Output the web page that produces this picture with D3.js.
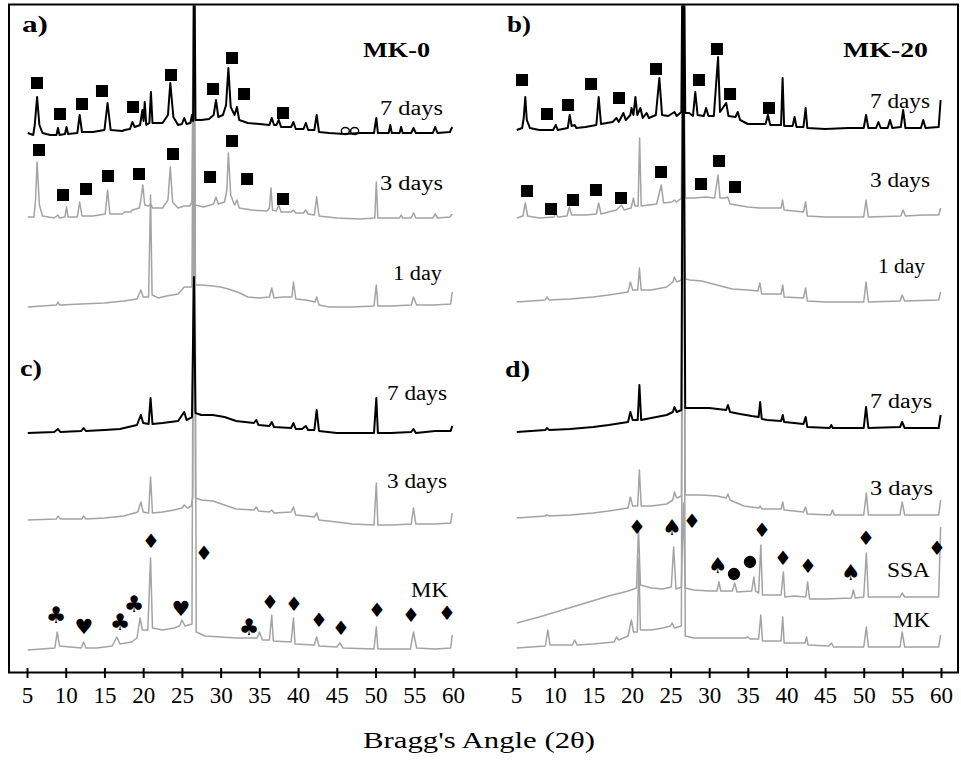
<!DOCTYPE html>
<html>
<head>
<meta charset="utf-8">
<script src="https://cdn.jsdelivr.net/npm/d3@7"></script>
<style>
  body { margin: 0; background: #fff; }
  svg { font-family: "Liberation Serif", "Times New Roman", serif; }
  text { font-family: "Liberation Serif", "Times New Roman", serif; fill: #000; }
</style>
</head>
<body>
<svg id="chart" width="961" height="764"></svg>
<script>
var tickValues = [5, 10, 15, 20, 25, 30, 35, 40, 45, 50, 55, 60];

// each pattern: [2theta, intensity above its own stacked baseline]
var mk0_7d = [[5.1,2],[5.8,0],[6.0,10],[6.3,38],[6.6,10],[7.0,2],[8.0,0],[8.8,0],[9.0,7],[9.2,0],[9.9,1],[10.1,8],[10.3,1],
  [11.5,2],[11.8,20],[12.1,3],[13.5,3],[15.0,5],[15.4,32],[15.8,5],[17.3,4],[17.6,5],[18.3,6],[18.6,13],[18.9,8],[19.6,10],
  [19.9,25],[20.05,14],[20.2,33],[20.4,10],[20.8,12],[21.0,43],[21.2,12],[22.5,12],[23.2,20],[23.5,52],[23.9,18],[24.5,10],
  [25.0,11],[25.3,17],[25.6,11],[26.1,12],[26.3,20],[26.45,14],[26.6,200],[26.75,15],[27.5,15],[28.5,16],[29.1,20],[29.4,35],
  [29.7,18],[30.3,20],[30.7,30],[31.0,67],[31.3,28],[31.8,20],[32.1,28],[32.4,15],[33.5,12],[35.0,11],[36.3,10],[36.6,17],
  [36.9,10],[37.2,10],[37.5,15],[37.8,8],[39.1,8],[39.4,13],[39.7,6],[40.7,6],[41.0,12],[41.3,5],[42.1,5],[42.4,20],[42.7,3],
  [44,2],[46,1],[48,2],[49.8,2],[50.1,17],[50.3,2],[51.7,2],[51.9,10],[52.1,2],[53.1,2],[53.3,8],[53.5,2],[54.6,2],[54.9,7],
  [55.2,2],[57.4,2],[57.7,8],[58.0,2],[59.6,3],[59.9,8]];
var mk0_3d = [[5.1,3],[5.9,3],[6.1,20],[6.3,58],[6.6,15],[7.0,4],[8.5,2],[9.0,5],[9.2,2],[9.9,3],[10.1,13],[10.3,3],[11.5,3],
  [11.8,18],[12.1,4],[13.5,4],[15.1,6],[15.4,30],[15.7,6],[17.3,6],[17.6,8],[18.4,8],[18.6,10],[19.5,12],[19.7,20],[19.95,35],
  [20.2,15],[20.7,14],[21.0,16],[21.2,12],[22.5,12],[23.2,20],[23.5,53],[23.8,18],[24.5,12],[25.3,14],[26.0,14],[26.3,18],
  [26.5,260],[26.7,15],[27.8,13],[29.1,16],[29.4,23],[29.7,16],[30.5,18],[30.8,30],[31.0,67],[31.3,25],[31.8,15],[32.1,20],
  [32.4,12],[34,10],[36.0,9],[36.3,12],[36.5,32],[36.7,10],[37.2,9],[37.5,15],[37.8,8],[39.1,8],[39.4,10],[39.7,7],[40.7,7],
  [41.0,10],[41.3,6],[42.1,5],[42.4,23],[42.7,4],[45,2],[48,1],[49.9,2],[50.1,38],[50.3,2],[52,2],[53.1,2],[53.3,5],[53.5,2],
  [54.6,2],[54.9,7],[55.2,2],[57.4,2],[57.7,6],[58.0,2],[59.6,3],[59.9,6]];
var mk0_1d = [[5.1,0],[8.8,2],[9.0,5],[9.2,2],[12.0,3],[15.0,4],[17.5,6],[19.2,8],[19.7,17],[20.0,10],[20.7,10],[20.95,112],
  [21.15,12],[22.0,9],[23.0,11],[24.5,13],[25.3,20],[26.3,20],[26.5,320],[26.75,22],[27.5,22],[29,21],[30.0,20],[31.0,18],
  [32.5,14],[33.5,10],[35,9],[36.3,10],[36.6,19],[36.9,9],[38,10],[39.2,10],[39.4,25],[39.7,8],[41,7],[42.2,5],[42.4,10],
  [42.7,2],[44,0],[47,0],[49.8,1],[50.1,22],[50.3,1],[52,1],[54.6,2],[54.9,10],[55.3,2],[57.5,2],[59.7,3],[59.9,15]];
var mkpc_7d = [[5.1,0],[8.5,1],[9.0,4],[9.3,1],[12.0,2],[12.3,5],[12.6,2],[15,3],[17,4],[19.2,8],[19.7,18],[20.0,10],[20.7,9],
  [20.95,35],[21.2,9],[22.5,10],[24.5,12],[25.3,21],[25.6,13],[26.3,16],[26.55,156],[26.75,20],[27.5,18],[29,18],[30.5,16],
  [32,12],[34.3,10],[34.6,13],[34.9,8],[36.3,7],[36.6,11],[36.9,6],[39.1,5],[39.4,10],[39.7,4],[40.5,4],[41.0,7],[41.3,3],
  [42.1,3],[42.4,23],[42.7,2],[45,0],[48,0],[49.8,0],[50.1,35],[50.3,0],[52,0],[54.6,1],[54.9,4],[55.2,0],[57.7,2],[59.7,2],
  [59.9,7]];
var mkpc_3d = [[5.1,0],[8.8,1],[9.0,4],[9.3,1],[12.1,1],[12.3,4],[12.6,1],[15,2],[17.5,4],[19.3,8],[19.7,18],[20.0,8],[20.7,7],
  [20.95,43],[21.2,7],[22.5,8],[24,10],[25.0,12],[25.3,15],[25.7,12],[26.2,14],[26.4,23],[26.55,520],[26.75,22],[27.5,20],
  [29,19],[30.5,15],[32,11],[34.3,10],[34.6,13],[34.9,9],[36.3,8],[36.6,10],[36.9,7],[39.1,8],[39.4,13],[39.7,5],[41,4],
  [42.1,3],[42.4,7],[42.7,0],[45,-2],[47,-4],[49.8,-5],[50.1,37],[50.3,-5],[52,-5],[54.6,-4],[54.9,12],[55.2,-4],[57.7,-4],
  [59.7,-3],[59.9,7]];
var mk_left = [[5.1,0],[8.6,2],[8.9,18],[9.2,4],[12.0,2],[12.3,8],[12.6,2],[14,2],[16.0,4],[16.6,13],[17.0,6],[18.5,8],[19.2,12],
  [19.6,32],[19.9,20],[20.6,20],[20.95,92],[21.2,22],[22.5,20],[24.0,22],[24.7,24],[25.0,30],[25.4,24],[26.3,26],[26.6,700],
  [26.85,18],[28,14],[30,13],[32,12],[34.7,12],[35.0,18],[35.4,10],[36.3,10],[36.6,35],[36.8,9],[39.1,8],[39.4,32],[39.6,6],
  [42.1,5],[42.4,13],[42.7,4],[45.0,3],[45.4,7],[45.8,2],[49.8,1],[50.1,23],[50.3,1],[54.5,1],[54.9,18],[55.3,2],[57.7,1],
  [59.7,2],[59.9,15]];
var mk20_7d = [[5.1,0],[5.8,2],[6.0,12],[6.2,33],[6.4,10],[6.8,2],[8,0],[9.8,0],[10.15,5],[10.4,0],[11.7,2],[11.95,15],[12.2,4],
  [12.6,5],[12.8,2],[14,3],[15.4,5],[15.7,33],[16.0,6],[17.5,8],[18.0,12],[18.3,8],[18.9,17],[19.2,10],[19.8,15],[19.95,22],
  [20.2,15],[20.45,33],[20.7,15],[21.1,22],[21.4,12],[21.9,17],[22.2,12],[23.1,15],[23.55,52],[23.9,15],[24.7,14],[25.1,16],
  [25.5,18],[25.8,14],[26.4,18],[26.65,300],[26.9,17],[27.4,17],[27.9,14],[28.2,38],[28.5,15],[29.3,14],[29.6,22],[29.9,14],
  [30.6,14],[31.15,73],[31.4,18],[32.2,27],[32.5,14],[33.4,13],[33.7,18],[34.0,10],[35,6],[37.3,6],[37.6,15],[37.9,5],[39.3,5],
  [39.5,52],[39.7,4],[40.8,4],[41.05,13],[41.3,3],[42.2,3],[42.48,22],[42.7,2],[45,1],[48,2],[50.0,2],[50.3,15],[50.6,2],
  [51.6,2],[51.9,8],[52.2,2],[53.1,2],[53.4,10],[53.7,2],[54.8,3],[55.1,20],[55.4,2],[57.4,2],[57.7,10],[58.0,2],[59.7,3],
  [59.95,30]];
var mk20_3d = [[5.1,0],[5.9,2],[6.2,15],[6.5,2],[8,0],[9.9,1],[10.15,5],[10.4,1],[11.6,2],[11.9,11],[12.2,3],[14,3],[15.4,4],
  [15.7,15],[16.0,4],[18,8],[18.65,13],[19.0,8],[19.9,10],[20.2,20],[20.4,12],[20.8,12],[21.0,80],[21.2,12],[23.2,14],[23.8,33],
  [24.1,15],[25.2,16],[25.5,18],[25.8,16],[26.4,20],[26.65,260],[26.9,20],[28,20],[29.5,21],[30.7,20],[31.15,43],[31.4,20],
  [32.1,20],[32.4,21],[32.7,14],[35,11],[36.5,10],[39.3,10],[39.5,18],[39.7,8],[42.2,6],[42.48,16],[42.7,2],[45,1],[48,1],
  [50,1],[50.3,18],[50.6,1],[54.8,2],[55.1,8],[55.4,2],[57.7,3],[59.7,3],[59.95,10]];
var mk20_1d = [[5.1,0],[8.8,2],[9.0,5],[9.3,2],[12,3],[15,5],[17,7],[19.5,10],[19.8,20],[20.1,12],[20.75,12],[20.97,34],
  [21.2,12],[22.5,12],[24.5,15],[25.3,20],[25.5,25],[25.8,20],[26.4,22],[26.65,320],[26.9,23],[27.5,22],[29,21],[31,17],
  [33,13],[35,12],[36.3,11],[36.56,19],[36.8,8],[38.5,8],[39.3,8],[39.52,17],[39.7,5],[42.2,4],[42.48,14],[42.7,1],[45,0],
  [48,0],[50,0],[50.3,20],[50.6,0],[54.7,1],[54.97,7],[55.3,1],[59.7,2],[59.95,10]];
var mkssa_7d = [[5.1,0],[8.8,2],[9.0,4],[9.3,2],[12,3],[15,5],[17,7],[19.5,10],[19.8,20],[20.1,12],[20.75,12],[20.97,47],
  [21.2,12],[22.5,14],[24.5,17],[25.3,20],[25.5,25],[25.8,20],[26.4,22],[26.65,450],[26.9,24],[28,24],[30,24],[32.2,22],
  [32.43,27],[32.7,20],[34,18],[35.5,16],[36.4,15],[36.6,30],[36.8,13],[37.5,12],[39.3,11],[39.52,17],[39.7,10],[41,9],
  [42.2,8],[42.48,15],[42.7,5],[45.6,4],[45.8,7],[46.0,4],[50,4],[50.3,25],[50.6,4],[54.7,5],[54.97,10],[55.3,4],[59.7,4],
  [59.95,17]];
var mkssa_3d = [[5.1,0],[8.8,2],[9.0,3],[9.3,2],[12,3],[15,5],[17,7],[19.5,10],[19.8,21],[20.1,12],[20.75,12],[20.97,48],
  [21.2,12],[22.5,12],[24.5,14],[25.3,18],[25.5,26],[25.8,20],[26.4,22],[26.65,520],[26.9,23],[29,23],[31,22],[32.2,20],
  [32.43,24],[32.7,18],[34.5,12],[36.4,10],[36.6,12],[36.8,9],[39.3,9],[39.52,16],[39.7,8],[42.2,6],[42.48,11],[42.7,4],
  [45.7,3],[45.96,8],[46.2,3],[50,3],[50.34,25],[50.6,3],[54.7,3],[54.97,16],[55.3,3],[59.7,3],[59.95,18]];
var ssa = [[5.1,0],[8,6],[11,13],[14,20],[17,27],[19.5,32],[20.6,35],[20.85,95],[21.1,38],[22.5,35],[24.0,34],[25.1,36],
  [25.4,76],[25.7,34],[26.4,36],[26.65,120],[26.9,35],[28,33],[30,32],[31.0,32],[31.27,41],[31.5,32],[33.0,32],[33.3,40],
  [33.6,31],[35.5,32],[35.78,46],[36.0,32],[36.4,30],[36.68,78],[36.9,28],[39.3,28],[39.6,51],[39.8,26],[41,27],[42.5,26],
  [42.74,41],[43,24],[45,24],[48.4,25],[48.66,33],[48.9,25],[50.0,26],[50.34,70],[50.6,26],[54.7,26],[54.97,30],[55.3,26],
  [59.7,26],[59.95,96]];
var mk_right = [[5.1,0],[8.8,2],[9.12,18],[9.4,3],[12.3,3],[12.6,8],[12.9,3],[15,4],[17.7,6],[18.0,11],[18.3,8],[19.5,12],
  [19.94,28],[20.2,16],[20.7,16],[20.9,90],[21.1,18],[22.5,18],[24,20],[25.0,22],[25.2,25],[25.5,20],[26.4,22],[26.65,700],
  [26.9,12],[28,10],[31,10],[34.7,10],[35.0,11],[35.3,9],[36.4,9],[36.68,33],[36.9,7],[39.3,7],[39.52,31],[39.7,5],[42.4,5],
  [42.6,11],[42.8,3],[45.5,2],[45.83,5],[46.1,1],[50,1],[50.34,21],[50.6,1],[54.7,1],[54.97,16],[55.3,1],[59.7,1],[59.95,13]];

// stacking offsets (a.u.) of each pattern
var offsets = { mk0_7d: 538, mk0_3d: 453, mk0_1d: 366, mkpc_7d: 240, mkpc_3d: 153, mk_left: 23,
  mk20_7d: 543, mk20_3d: 455, mk20_1d: 371, mkssa_7d: 241, mkssa_3d: 155, ssa: 50, mk_right: 25 };

// phase markers: [2theta, level]
var sqA7 = [[6.29,590],[9.26,559],[12.10,569],[14.68,582],[18.69,566],[23.59,598],[29.02,584],[31.47,615],[33.02,579],[38.05,560]];
var sqA3 = [[6.55,523],[9.65,478],[12.62,484],[15.46,497],[19.46,499],[23.85,519],[28.63,496],[31.47,532],[33.41,494],[38.05,474]];
var ringA7 = [[46.1,542],[47.3,542]];
var clubMK = [[8.74,58],[17.01,51],[18.82,69],[33.66,46]];
var heartMK = [[12.36,46],[24.88,64]];
var diamMK = [[21.01,132],[27.85,120],[36.37,71],[39.47,69],[42.70,53],[45.54,45],[50.19,63],[54.58,58],[59.23,60]];
var sqB7 = [[5.78,593],[9.01,559],[11.73,568],[14.71,589],[18.33,575],[23.12,604],[28.68,593],[31.01,624],[32.70,579],[37.74,565]];
var sqB3 = [[6.42,482],[9.53,464],[12.38,473],[15.35,483],[18.59,475],[23.77,501],[28.94,489],[31.27,512],[33.34,486]];
var diamSSA = [[20.66,146],[27.78,152],[36.84,143],[39.55,115],[42.79,107],[50.30,135],[59.48,125]];
var spadeSSA = [[25.19,146],[31.14,108],[48.35,101]];
var dotSSA = [[33.21,99],[35.28,111]];

var GREY = '#a3a3a3';

var series = [
  { side: 'L', name: 'mk0_3d', data: mk0_3d, color: GREY },
  { side: 'L', name: 'mk0_1d', data: mk0_1d, color: GREY },
  { side: 'L', name: 'mkpc_3d', data: mkpc_3d, color: GREY },
  { side: 'L', name: 'mk_left', data: mk_left, color: GREY },
  { side: 'R', name: 'mk20_3d', data: mk20_3d, color: GREY },
  { side: 'R', name: 'mk20_1d', data: mk20_1d, color: GREY },
  { side: 'R', name: 'mkssa_3d', data: mkssa_3d, color: GREY },
  { side: 'R', name: 'ssa', data: ssa, color: GREY },
  { side: 'R', name: 'mk_right', data: mk_right, color: GREY },
  { side: 'L', name: 'mk0_7d', data: mk0_7d, color: '#000' },
  { side: 'L', name: 'mkpc_7d', data: mkpc_7d, color: '#000' },
  { side: 'R', name: 'mk20_7d', data: mk20_7d, color: '#000' },
  { side: 'R', name: 'mkssa_7d', data: mkssa_7d, color: '#000' }
];

var markers = [
  { side: 'L', shape: 'square', pts: sqA7 }, { side: 'L', shape: 'square', pts: sqA3 },
  { side: 'L', shape: 'ring', pts: ringA7 },
  { side: 'L', shape: 'club', pts: clubMK }, { side: 'L', shape: 'heart', pts: heartMK },
  { side: 'L', shape: 'diamond', pts: diamMK },
  { side: 'R', shape: 'square', pts: sqB7 }, { side: 'R', shape: 'square', pts: sqB3 },
  { side: 'R', shape: 'diamond', pts: diamSSA }, { side: 'R', shape: 'spade', pts: spadeSSA },
  { side: 'R', shape: 'dot', pts: dotSSA }
];

var labels = [
  { t: 'a)', x: 22, y: 32, w: 26, size: 24, bold: true },
  { t: 'MK-0', x: 363, y: 57, w: 67, size: 22, bold: true },
  { t: '7 days', x: 380, y: 115, w: 63, size: 20 },
  { t: '3 days', x: 380, y: 190, w: 63, size: 20 },
  { t: '1 day', x: 393, y: 280, w: 49, size: 20 },
  { t: 'c)', x: 20, y: 376, w: 22, size: 24, bold: true },
  { t: '7 days', x: 387, y: 400, w: 60, size: 20 },
  { t: '3 days', x: 387, y: 488, w: 60, size: 20 },
  { t: 'MK', x: 411, y: 597, w: 37, size: 20 },
  { t: 'b)', x: 507, y: 32, w: 24, size: 24, bold: true },
  { t: 'MK-20', x: 843, y: 57, w: 85, size: 22, bold: true },
  { t: '7 days', x: 870, y: 108, w: 60, size: 20 },
  { t: '3 days', x: 870, y: 187, w: 60, size: 20 },
  { t: '1 day', x: 878, y: 273, w: 47, size: 20 },
  { t: 'd)', x: 505, y: 377, w: 25, size: 24, bold: true },
  { t: '7 days', x: 870, y: 408, w: 62, size: 20 },
  { t: '3 days', x: 870, y: 495, w: 63, size: 20 },
  { t: 'SSA', x: 887, y: 577, w: 43, size: 20 },
  { t: 'MK', x: 893, y: 627, w: 37, size: 20 }
];

var svg = d3.select('#chart');
var xL = d3.scaleLinear().domain([5, 60]).range([27, 453]);
var xR = d3.scaleLinear().domain([5, 60]).range([516, 941]);
var y = d3.scaleLinear().domain([0, 668]).range([673, 5]);
function xs(side) { return side === 'L' ? xL : xR; }

svg.append('clipPath').attr('id', 'box')
  .append('rect').attr('x', 10).attr('y', 5.5).attr('width', 947).attr('height', 666);

var plot = svg.append('g').attr('clip-path', 'url(#box)');

series.forEach(function (s) {
  var x = xs(s.side), off = offsets[s.name];
  var line = d3.line().x(function (d) { return x(d[0]); }).y(function (d) { return y(off + d[1]); });
  plot.append('path').datum(s.data)
    .attr('d', line)
    .attr('fill', 'none')
    .attr('stroke', s.color)
    .attr('stroke-width', s.color === GREY ? 1.5 : 2)
    .attr('stroke-linejoin', 'round');
});

var glyphs = { club: '\u2663', heart: '\u2665', diamond: '\u2666', spade: '\u2660' };
var glyphSize = { club: 23, heart: 21, diamond: 20, spade: 22 };

markers.forEach(function (m) {
  var x = xs(m.side);
  var g = plot.append('g');
  if (m.shape === 'square' || m.shape === 'dot') {
    var sym = d3.symbol()
      .type(m.shape === 'square' ? d3.symbolSquare : d3.symbolCircle)
      .size(m.shape === 'square' ? 144 : 120);
    g.selectAll('path').data(m.pts).enter().append('path')
      .attr('d', sym)
      .attr('transform', function (d) { return 'translate(' + x(d[0]) + ',' + y(d[1]) + ')'; })
      .attr('fill', '#000');
  } else if (m.shape === 'ring') {
    g.selectAll('ellipse').data(m.pts).enter().append('ellipse')
      .attr('cx', function (d) { return x(d[0]); })
      .attr('cy', function (d) { return y(d[1]); })
      .attr('rx', 4).attr('ry', 3.5)
      .attr('fill', 'none').attr('stroke', '#000').attr('stroke-width', 1.4);
  } else {
    g.selectAll('text').data(m.pts).enter().append('text')
      .attr('x', function (d) { return x(d[0]); })
      .attr('y', function (d) { return y(d[1]); })
      .attr('dy', '0.35em')
      .attr('text-anchor', 'middle')
      .style('font-family', '"DejaVu Sans", sans-serif')
      .style('font-size', glyphSize[m.shape] + 'px')
      .text(glyphs[m.shape]);
  }
});

svg.append('g').selectAll('text').data(labels).enter().append('text')
  .attr('x', function (d) { return d.x; })
  .attr('y', function (d) { return d.y; })
  .attr('textLength', function (d) { return d.w; })
  .attr('lengthAdjust', 'spacingAndGlyphs')
  .style('font-size', function (d) { return d.size + 'px'; })
  .style('font-weight', function (d) { return d.bold ? 'bold' : 'normal'; })
  .text(function (d) { return d.t; });

// frame
svg.append('rect')
  .attr('x', 9).attr('y', 4.5).attr('width', 949).attr('height', 668)
  .attr('fill', 'none').attr('stroke', '#000').attr('stroke-width', 2);

[xL, xR].forEach(function (x) {
  var ax = svg.append('g')
    .attr('transform', 'translate(0,668)')
    .call(d3.axisBottom(x).tickValues(tickValues).tickSize(10).tickPadding(9));
  ax.attr('font-family', null);
  ax.select('.domain').remove();
  ax.selectAll('line').attr('stroke', '#000').attr('stroke-width', 2);
  ax.selectAll('text')
    .style('font-family', '"Liberation Serif", "Times New Roman", serif')
    .style('font-size', '23px');
});

svg.append('text')
  .attr('x', 363).attr('y', 748)
  .attr('textLength', 232).attr('lengthAdjust', 'spacingAndGlyphs')
  .style('font-size', '24px')
  .text('Bragg\'s Angle (2\u03b8)');
</script>
</body>
</html>
